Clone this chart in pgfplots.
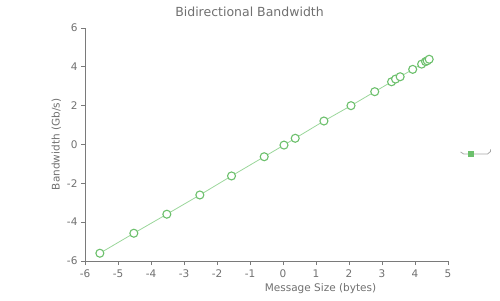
\documentclass[border=0pt]{standalone}
\usepackage{pgfplots}
\pgfplotsset{compat=1.18}
\usepackage{fontspec}
\setmainfont{DejaVu Sans}
\definecolor{txt}{HTML}{707070}
\definecolor{axl}{HTML}{7A7A7A}
\definecolor{lgreen}{HTML}{9AD69A}
\definecolor{mgreen}{HTML}{6CC06C}
\begin{document}
\begin{tikzpicture}[x=1pt,y=1pt]
\useasboundingbox (0,0) rectangle (500,300);
\begin{axis}[
  at={(85pt,39pt)}, anchor=south west,
  scale only axis, width=363pt, height=233pt,
  xmin=-6, xmax=5, ymin=-6, ymax=6,
  xtick={-6,...,5}, ytick={-6,-4,...,6},
  axis x line*=bottom, axis y line*=left,
  axis line style={axl, line width=0.8pt, -},
  tick style={axl, line width=0.8pt},
  tick align=outside, major tick length=4pt,
  ticklabel style={font=\fontsize{10.5}{12}\selectfont, text=txt},
  xticklabel style={yshift=-1pt},
  /pgf/number format/assume math mode=true,
  title={Bidirectional Bandwidth},
  title style={font=\fontsize{12.5}{14}\selectfont, text=txt, at={(0.5,1)}, xshift=-17pt, yshift=2pt},
  xlabel={Message Size (bytes)},
  ylabel={Bandwidth (Gb/s)},
  label style={font=\fontsize{10.5}{12}\selectfont, text=txt},
  xlabel style={xshift=54pt, yshift=1pt},
  ylabel style={yshift=-1pt},
  legend style={at={(1.033,0.464)}, anchor=west, draw=none, fill=none, inner sep=0pt, nodes={inner sep=0pt}},
  legend cell align=left,
  clip=false,
]
\addplot[lgreen, line width=0.8pt, mark=*, mark size=4pt,
  mark options={draw=mgreen, fill=white, line width=1.1pt}, forget plot]
  coordinates {
  (-5.55,-5.60) (-4.52,-4.57) (-3.52,-3.59) (-2.52,-2.60) (-1.56,-1.62)
  (-0.57,-0.63) (0.03,-0.03) (0.37,0.32) (1.24,1.21) (2.06,2.00)
  (2.78,2.72) (3.29,3.23) (3.41,3.37) (3.55,3.49) (3.93,3.87)
  (4.20,4.14) (4.32,4.27) (4.37,4.31) (4.43,4.39)
  };
\addlegendimage{legend image code/.code={
  \draw[gray!70, line width=0.8pt] (0pt,1.5pt) -- (3pt,-0.5pt) -- (27pt,-0.5pt) -- (30pt,2pt) -- (30pt,4pt);
  \fill[mgreen] (7.5pt,-3pt) rectangle (12.5pt,2pt);
}}
\addlegendentry{}
\end{axis}
\end{tikzpicture}
\end{document}
